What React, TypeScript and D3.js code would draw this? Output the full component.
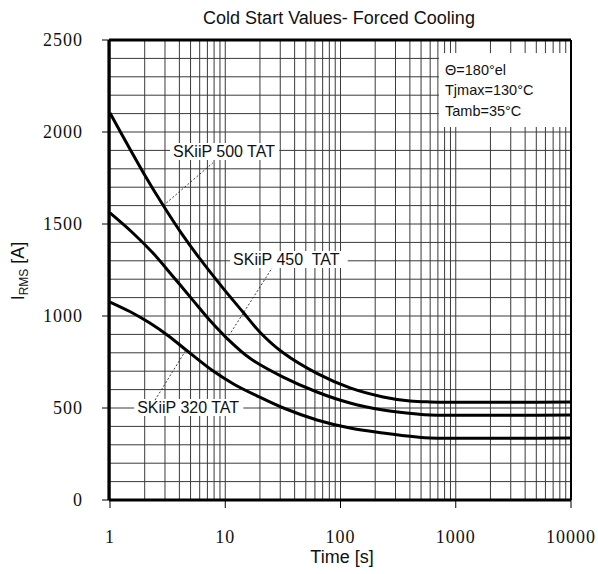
import React from 'react';
import * as d3 from 'd3';

// (time in s, current in A)
const timeSkiip500 = [1, 1.93, 2.88, 4.2, 6.04, 9.6, 14.3, 20, 31.8, 62.5, 121, 234, 400, 600, 10000];
const irmsSkiip500 = [2103, 1783, 1603, 1446, 1310, 1150, 1020, 912, 800, 688, 609, 560, 538, 533, 533];

const timeSkiip450 = [1, 1.58, 2.36, 3.52, 5.25, 7.38, 10.3, 16.4, 31.8, 62.5, 121, 234, 460, 600, 10000];
const irmsSkiip450 = [1560, 1451, 1342, 1215, 1085, 975, 880, 770, 668, 587, 527, 489, 467, 462, 462];

const timeSkiip320 = [1, 1.5, 2.2, 3.2, 4.6, 7.8, 12, 19, 32, 62.5, 121, 234, 460, 600, 10000];
const irmsSkiip320 = [1076, 1023, 963, 893, 814, 702, 628, 565, 500, 435, 391, 364, 342, 337, 337];

const xTicks = [1, 10, 100, 1000, 10000];
const yTicks = [0, 500, 1000, 1500, 2000, 2500];
const conditions = ['\u0398=180°el', 'Tjmax=130°C', 'Tamb=35°C'];

const series = [
  { name: 'SKiiP 500 TAT', t: timeSkiip500, v: irmsSkiip500, label: [3.52, 1864], leader: [[2.9, 1600], [7.8, 1832]] },
  { name: 'SKiiP 450  TAT', t: timeSkiip450, v: irmsSkiip450, label: [11.7, 1277], leader: [[10.3, 875], [25.5, 1261]] },
  { name: 'SKiiP 320 TAT', t: timeSkiip320, v: irmsSkiip320, label: [1.72, 473], leader: [[2.46, 543], [4.56, 815]] },
];

const W = 598;
const H = 574;

export default function App() {
  const x = d3.scaleLog().domain([1, 10000]).range([110, 571]);
  const y = d3.scaleLinear().domain([0, 2500]).range([500, 40]);

  // log grid: 1..9 per decade
  const vGrid: number[] = [];
  for (let d = 1; d < 10000; d *= 10) {
    for (let k = 1; k < 10; k++) vGrid.push(d * k);
  }
  const hGrid = d3.range(100, 2500, 100);

  const line = d3.line<[number, number]>()
    .x(d => x(d[0]))
    .y(d => y(d[1]))
    .curve(d3.curveCatmullRom.alpha(0.5));

  const sans = 'Liberation Sans, Arial, sans-serif';
  const serif = 'Liberation Serif, Times New Roman, serif';

  return (
    <svg width={W} height={H} style={{ position: 'absolute', left: 0, top: 0, background: '#fff' }}>
      <rect width={W} height={H} fill="#fff" />

      {/* grid */}
      <g stroke="#3a3a3a" strokeWidth={1}>
        {vGrid.map(t => (
          <line key={'v' + t} x1={x(t)} x2={x(t)} y1={y(2500)} y2={y(0)} />
        ))}
        {hGrid.map(v => (
          <line key={'h' + v} x1={x(1)} x2={x(10000)} y1={y(v)} y2={y(v)} />
        ))}
      </g>

      {/* conditions box */}
      <rect x={x(700) + 1} y={y(2429)} width={x(10000) - x(700) - 2} height={y(2027) - y(2429)} fill="#fff" />
      <g fontFamily={sans} fontSize={14.5} fill="#111">
        {conditions.map((c, i) => (
          <text key={c} x={x(807)} y={y(2310) + i * 20.5}>{c}</text>
        ))}
      </g>

      {/* curves */}
      <g fill="none" stroke="#000" strokeWidth={3} strokeLinejoin="round">
        {series.map(s => (
          <path key={s.name} d={line(s.t.map((t, i) => [t, s.v[i]] as [number, number])) || ''} />
        ))}
      </g>

      {/* labels and leaders */}
      {series.map(s => {
        const lx = x(s.label[0]);
        const ly = y(s.label[1]);
        return (
          <g key={'l' + s.name}>
            <rect x={lx - 3} y={ly - 14} width={s.name.length * 8.4} height={17} fill="#fff" />
            <line
              x1={x(s.leader[0][0])} y1={y(s.leader[0][1])}
              x2={x(s.leader[1][0])} y2={y(s.leader[1][1])}
              stroke="#222" strokeWidth={0.9} strokeDasharray="2,2"
            />
            <text x={lx} y={ly} fontFamily={sans} fontSize={16} fill="#111" style={{ whiteSpace: 'pre' }}>
              {s.name}
            </text>
          </g>
        );
      })}

      {/* frame */}
      <g stroke="#000" fill="none">
        <line x1={x(1) - 1} x2={x(10000)} y1={y(2500)} y2={y(2500)} strokeWidth={3} />
        <line x1={x(1) - 1} x2={x(10000)} y1={y(0)} y2={y(0)} strokeWidth={3} />
        <line x1={x(1) - 1} x2={x(1) - 1} y1={y(2500)} y2={y(0)} strokeWidth={3.2} />
        <line x1={x(10000)} x2={x(10000)} y1={y(2500)} y2={y(0)} strokeWidth={2} />
      </g>

      {/* ticks */}
      <g stroke="#000" strokeWidth={1}>
        {xTicks.map(t => (
          <line key={'xt' + t} x1={x(t)} x2={x(t)} y1={y(0)} y2={y(0) + 8} />
        ))}
        {yTicks.map(v => (
          <line key={'yt' + v} x1={x(1) - 8} x2={x(1)} y1={y(v)} y2={y(v)} />
        ))}
      </g>

      <g fontFamily={serif} fontSize={18} fill="#111" letterSpacing={1}>
        {xTicks.map(t => (
          <text key={'xl' + t} x={x(t)} y={543} textAnchor="middle">{t}</text>
        ))}
        {yTicks.map(v => (
          <text key={'yl' + v} x={83} y={y(v) + 6} textAnchor="end">{v}</text>
        ))}
      </g>

      {/* titles */}
      <text x={339} y={24} textAnchor="middle" fontFamily={sans} fontSize={18} fill="#111">
        Cold Start Values- Forced Cooling
      </text>
      <text x={342} y={563} textAnchor="middle" fontFamily={sans} fontSize={18} fill="#111">
        Time [s]
      </text>
      <text transform="translate(24,271) rotate(-90)" textAnchor="middle" fontFamily={sans} fontSize={18} fill="#111">
        I<tspan fontSize={12} dy={4}>RMS</tspan><tspan dy={-4}> [A]</tspan>
      </text>
    </svg>
  );
}
